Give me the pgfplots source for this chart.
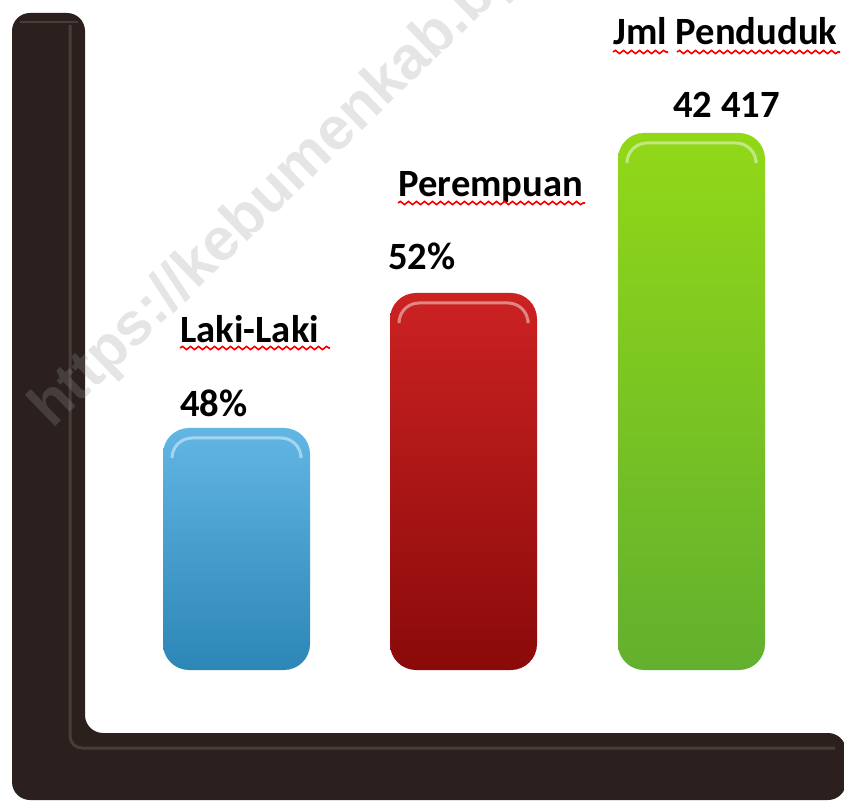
\documentclass[border=0pt]{standalone}
\usepackage{pgfplots}
\pgfplotsset{compat=1.18}
\usepackage{fontspec}
\setmainfont{Carlito}
\newfontfamily\wmfont{Liberation Sans Bold}
\usetikzlibrary{decorations.pathmorphing}
\definecolor{axbrown}{HTML}{2B201E}
\definecolor{axhi}{HTML}{4A3C39}
\definecolor{blueT}{HTML}{62B6E4}
\definecolor{blueB}{HTML}{2C86B6}
\definecolor{redT}{HTML}{CC2222}
\definecolor{redB}{HTML}{8A0A0A}
\definecolor{greenT}{HTML}{92D818}
\definecolor{greenB}{HTML}{62B02E}
\begin{document}
\begin{tikzpicture}
\begin{axis}[
  scale only axis,
  width=422pt, height=401.5pt,
  xmin=0, xmax=844, ymin=-133, ymax=670,
  axis line style={draw=none},
  xtick=\empty, ytick=\empty,
  ybar, bar width=147,
  clip=true,
]
% L-shaped axis
\fill[axbrown, rounded corners=9pt] (axis cs:12,-130) -- (axis cs:12,657) -- (axis cs:85,657) -- (axis cs:85,-63) -- (axis cs:846,-63) -- (axis cs:846,-130) -- cycle;
\draw[axhi, line width=1.5pt, rounded corners=6pt] (axis cs:70,645) -- (axis cs:70,-78) -- (axis cs:835,-78);
\draw[axhi, line width=1pt] (axis cs:20,648) -- (axis cs:78,648);
% watermark
\node[font=\wmfont\fontsize{30}{33}\selectfont, text=black!40, text opacity=0.25, rotate=44, anchor=base west, inner sep=0pt]
  at (axis cs:52,240) {https://kebumenkab.bps};
% bars
\addplot[bar shift=0pt, draw=none, top color=blueT, bottom color=blueB, rounded corners=13pt] coordinates {(236.5,242)};
\addplot[bar shift=0pt, draw=none, top color=redT, bottom color=redB, rounded corners=13pt] coordinates {(463.5,377)};
\addplot[bar shift=0pt, draw=none, top color=greenT, bottom color=greenB, rounded corners=13pt] coordinates {(691.5,537)};
% glossy highlights
\draw[white, opacity=0.45, line width=1.5pt, rounded corners=10pt] (axis cs:172,215) -- (axis cs:172,232) -- (axis cs:301,232) -- (axis cs:301,215);
\draw[white, opacity=0.45, line width=1.5pt, rounded corners=10pt] (axis cs:399,350) -- (axis cs:399,367) -- (axis cs:528,367) -- (axis cs:528,350);
\draw[white, opacity=0.45, line width=1.5pt, rounded corners=10pt] (axis cs:627,510) -- (axis cs:627,527) -- (axis cs:756,527) -- (axis cs:756,510);
% labels
\tikzset{lbl/.style={anchor=base west, inner sep=0pt, font=\bfseries\fontsize{19.3}{22}\selectfont},
         wavy/.style={red, line width=0.8pt, decorate, decoration={snake, amplitude=0.8pt, segment length=4pt}}}
\node[lbl] at (axis cs:180,327) {Laki-Laki};
\draw[wavy] (axis cs:180,322) -- (axis cs:330,322);
\node[lbl] at (axis cs:180,253) {48\%};
\node[lbl] at (axis cs:398,473) {Perempuan};
\draw[wavy] (axis cs:398,467) -- (axis cs:585,467);
\node[lbl] at (axis cs:388,400) {52\%};
\node[lbl] at (axis cs:613,625) {Jml Penduduk};
\draw[wavy] (axis cs:613,618) -- (axis cs:668,618);
\draw[wavy] (axis cs:677,618) -- (axis cs:840,618);
\node[lbl] at (axis cs:673,552) {42 417};
\end{axis}
\end{tikzpicture}
\end{document}
